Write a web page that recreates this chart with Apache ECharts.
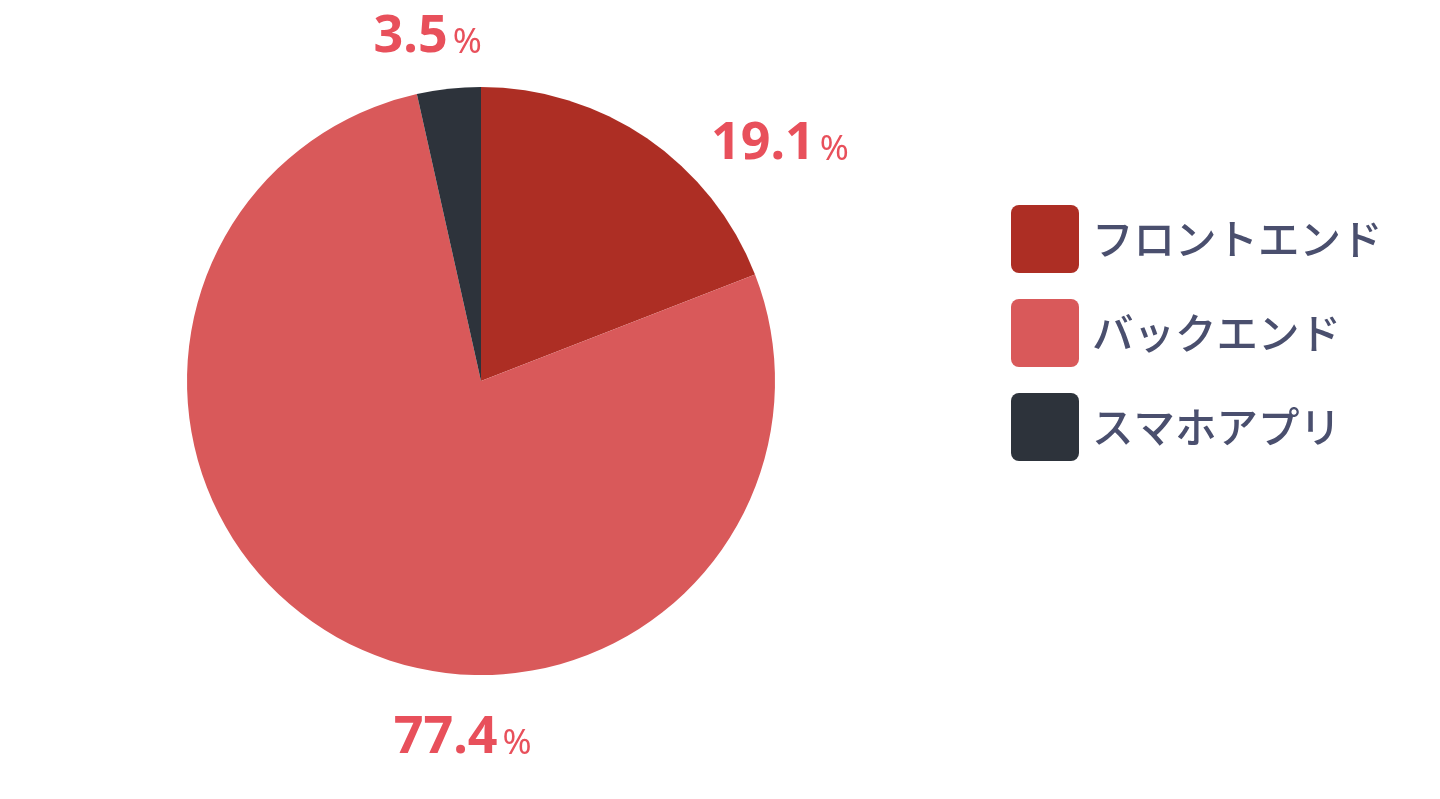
<!DOCTYPE html>
<html>
<head>
<meta charset="utf-8">
<script src="https://cdn.jsdelivr.net/npm/echarts@6/dist/echarts.min.js"></script>
<style>
html,body{margin:0;padding:0;background:#fff;}
#c{width:1440px;height:799px;}
</style>
</head>
<body>
<div id="c"></div>
<script>
const categories = ['フロントエンド', 'バックエンド', 'スマホアプリ'];
const values = [19.1, 77.4, 3.5];
const colors = ['#ad2e24', '#d9595a', '#2d333b'];
const labelShiftX = [59, 194, 38];
const labelShiftY = [6, 98, -52];

const chart = echarts.init(document.getElementById('c'), null, {renderer: 'canvas'});
const boxIcon = 'path://M8,0 H60 A8,8 0 0 1 68,8 V60 A8,8 0 0 1 60,68 H8 A8,8 0 0 1 0,60 V8 A8,8 0 0 1 8,0 Z';
chart.setOption({
  animation: false,
  backgroundColor: '#ffffff',
  legend: {
    orient: 'vertical',
    left: 1006,
    top: 200,
    itemWidth: 68,
    itemHeight: 68,
    itemGap: 26,
    icon: boxIcon,
    data: categories,
    textStyle: {
      fontFamily: '"Noto Sans CJK JP", "Noto Sans", sans-serif',
      fontSize: 41.5,
      fontWeight: 500,
      color: '#4a4f6e',
      padding: [0, 0, 0, 8]
    }
  },
  series: [{
    type: 'pie',
    center: [481, 381],
    radius: [0, 294],
    startAngle: 90,
    clockwise: true,
    avoidLabelOverlap: false,
    data: categories.map((n, i) => ({name: n, value: values[i], itemStyle: {color: colors[i]}})),
    label: {
      show: true,
      position: 'outside',
      formatter: p => '{v|' + p.value.toFixed(1) + '}{p|%}',
      rich: {
        v: {fontFamily: '"Noto Sans", sans-serif', fontWeight: 'bold', fontSize: 52, color: '#e8505b'},
        p: {fontFamily: '"Noto Sans", sans-serif', fontSize: 35, color: '#e8505b', padding: [12, 0, 0, 5]}
      }
    },
    labelLine: {show: false, length: 0, length2: 0},
    labelLayout: p => ({dx: labelShiftX[p.dataIndex], dy: labelShiftY[p.dataIndex]})
  }]
});
</script>
</body>
</html>
